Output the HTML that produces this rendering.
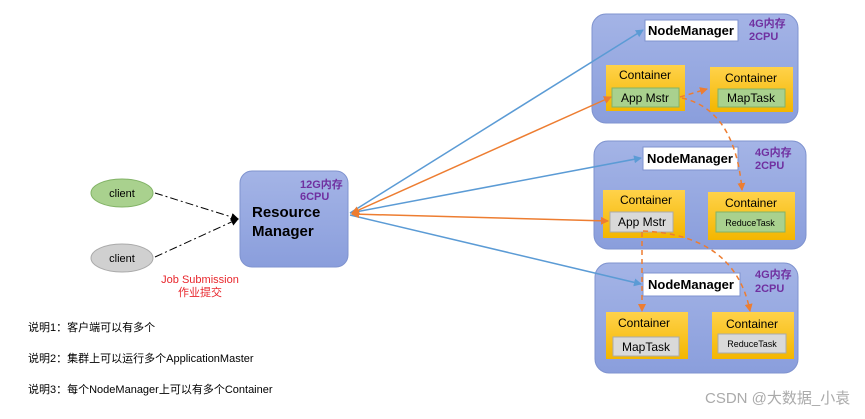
<!DOCTYPE html>
<html><head><meta charset="utf-8"><style>
body{margin:0;background:#fff;}
svg text{font-family:"Liberation Sans","Noto Sans CJK SC",sans-serif;}
</style></head><body>
<svg width="865" height="414" xmlns="http://www.w3.org/2000/svg">
<defs>
<linearGradient id="nm" x1="0" y1="0" x2="0" y2="1"><stop offset="0" stop-color="#a4b4e6"/><stop offset="1" stop-color="#8a9edc"/></linearGradient>
<linearGradient id="ct" x1="0" y1="0" x2="0" y2="1"><stop offset="0" stop-color="#ffd24a"/><stop offset="1" stop-color="#f3b600"/></linearGradient>
<marker id="ab" markerWidth="8" markerHeight="8" refX="7" refY="4" orient="auto" markerUnits="userSpaceOnUse"><path d="M0,0L8,4L0,8z" fill="#5b9bd5"/></marker>
<marker id="ao" markerWidth="8" markerHeight="8" refX="7" refY="4" orient="auto" markerUnits="userSpaceOnUse"><path d="M0,0L8,4L0,8z" fill="#ed7d31"/></marker>
<marker id="ao2" markerWidth="8" markerHeight="8" refX="1" refY="4" orient="auto" markerUnits="userSpaceOnUse"><path d="M8,0L0,4L8,8z" fill="#ed7d31"/></marker>
<marker id="ak" markerWidth="8" markerHeight="8" refX="7" refY="4" orient="auto" markerUnits="userSpaceOnUse"><path d="M0,0L8,4L0,8z" fill="#000"/></marker>
</defs>

<rect x="592" y="14" width="206" height="109" rx="14" fill="url(#nm)" stroke="#7f93cf"/>
<rect x="594" y="141" width="212" height="108" rx="14" fill="url(#nm)" stroke="#7f93cf"/>
<rect x="595" y="263" width="203" height="110" rx="14" fill="url(#nm)" stroke="#7f93cf"/>

<rect x="645" y="20" width="93" height="21" fill="#fff" stroke="#7f93cf"/>
<text x="691" y="35" font-size="13" font-weight="bold" text-anchor="middle">NodeManager</text>
<text x="749" y="27" font-size="11" font-weight="bold" fill="#7030a0">4G内存</text>
<text x="749" y="40" font-size="11" font-weight="bold" fill="#7030a0">2CPU</text>
<rect x="606" y="65" width="79" height="46" fill="url(#ct)"/>
<text x="645" y="79" font-size="12" text-anchor="middle">Container</text>
<rect x="612" y="88" width="67" height="19" fill="#a9d18e" stroke="#82b366"/>
<text x="645" y="102" font-size="12" text-anchor="middle">App Mstr</text>
<rect x="710" y="67" width="83" height="45" fill="url(#ct)"/>
<text x="751" y="82" font-size="12" text-anchor="middle">Container</text>
<rect x="718" y="89" width="67" height="18" fill="#a9d18e" stroke="#82b366"/>
<text x="751" y="102" font-size="12" text-anchor="middle">MapTask</text>

<rect x="643" y="147" width="95" height="23" fill="#fff" stroke="#7f93cf"/>
<text x="690" y="163" font-size="13" font-weight="bold" text-anchor="middle">NodeManager</text>
<text x="755" y="156" font-size="11" font-weight="bold" fill="#7030a0">4G内存</text>
<text x="755" y="169" font-size="11" font-weight="bold" fill="#7030a0">2CPU</text>
<rect x="603" y="190" width="82" height="48" fill="url(#ct)"/>
<text x="646" y="204" font-size="12" text-anchor="middle">Container</text>
<rect x="610" y="212" width="63" height="20" fill="#d9d9d9" stroke="#aaa"/>
<text x="642" y="226" font-size="12" text-anchor="middle">App Mstr</text>
<rect x="708" y="192" width="87" height="48" fill="url(#ct)"/>
<text x="751" y="207" font-size="12" text-anchor="middle">Container</text>
<rect x="716" y="212" width="69" height="20" fill="#a9d18e" stroke="#82b366"/>
<text x="750" y="226" font-size="9" text-anchor="middle">ReduceTask</text>

<rect x="643" y="273" width="97" height="23" fill="#fff" stroke="#7f93cf"/>
<text x="691" y="289" font-size="13" font-weight="bold" text-anchor="middle">NodeManager</text>
<text x="755" y="278" font-size="11" font-weight="bold" fill="#7030a0">4G内存</text>
<text x="755" y="292" font-size="11" font-weight="bold" fill="#7030a0">2CPU</text>
<rect x="606" y="312" width="82" height="47" fill="url(#ct)"/>
<text x="644" y="327" font-size="12" text-anchor="middle">Container</text>
<rect x="613" y="337" width="66" height="19" fill="#d9d9d9" stroke="#aaa"/>
<text x="646" y="351" font-size="12" text-anchor="middle">MapTask</text>
<rect x="712" y="312" width="82" height="47" fill="url(#ct)"/>
<text x="752" y="328" font-size="12" text-anchor="middle">Container</text>
<rect x="718" y="334" width="68" height="19" fill="#d9d9d9" stroke="#aaa"/>
<text x="752" y="347" font-size="9" text-anchor="middle">ReduceTask</text>

<rect x="240" y="171" width="108" height="96" rx="12" fill="url(#nm)" stroke="#7f93cf"/>
<text x="300" y="188" font-size="11" font-weight="bold" fill="#7030a0">12G内存</text>
<text x="300" y="200" font-size="11" font-weight="bold" fill="#7030a0">6CPU</text>
<text x="252" y="217" font-size="15" font-weight="bold">Resource</text>
<text x="252" y="236" font-size="15" font-weight="bold">Manager</text>

<ellipse cx="122" cy="193" rx="31" ry="14" fill="#a9d18e" stroke="#82b366"/>
<text x="122" y="197" font-size="11" text-anchor="middle">client</text>
<ellipse cx="122" cy="258" rx="31" ry="14" fill="#d0d0d0" stroke="#aaa"/>
<text x="122" y="262" font-size="11" text-anchor="middle">client</text>
<line x1="155" y1="193" x2="238" y2="219" stroke="#000" stroke-dasharray="8,3,2,3" marker-end="url(#ak)"/>
<line x1="155" y1="257" x2="238" y2="219" stroke="#000" stroke-dasharray="8,3,2,3" marker-end="url(#ak)"/>
<text x="200" y="283" font-size="11" fill="#e8262c" text-anchor="middle">Job Submission</text>
<text x="200" y="296" font-size="11" fill="#e8262c" text-anchor="middle">作业提交</text>

<line x1="350" y1="213" x2="643" y2="30" stroke="#5b9bd5" stroke-width="1.5" marker-end="url(#ab)"/>
<line x1="350" y1="213" x2="641" y2="158" stroke="#5b9bd5" stroke-width="1.5" marker-end="url(#ab)"/>
<line x1="350" y1="215" x2="641" y2="284" stroke="#5b9bd5" stroke-width="1.5" marker-end="url(#ab)"/>
<line x1="352" y1="213" x2="611" y2="97" stroke="#ed7d31" stroke-width="1.5" marker-start="url(#ao2)" marker-end="url(#ao)"/>
<line x1="352" y1="214" x2="608" y2="221" stroke="#ed7d31" stroke-width="1.5" marker-start="url(#ao2)" marker-end="url(#ao)"/>
<g stroke="#ed7d31" stroke-width="1.5" stroke-dasharray="5,4" fill="none">
<path d="M680,97 L707,89" marker-end="url(#ao)"/>
<path d="M682,98 Q735,110 742,190" marker-end="url(#ao)"/>
<path d="M642,232 L642,311" marker-end="url(#ao)"/>
<path d="M643,231 Q735,235 750,311" marker-end="url(#ao)"/>
</g>

<text x="28" y="331" font-size="11">说明1：客户端可以有多个</text>
<text x="28" y="362" font-size="11">说明2：集群上可以运行多个ApplicationMaster</text>
<text x="28" y="393" font-size="11">说明3：每个NodeManager上可以有多个Container</text>
<text x="705" y="403" font-size="15" fill="#aaa">CSDN @大数据_小袁</text>
</svg>
</body></html>
